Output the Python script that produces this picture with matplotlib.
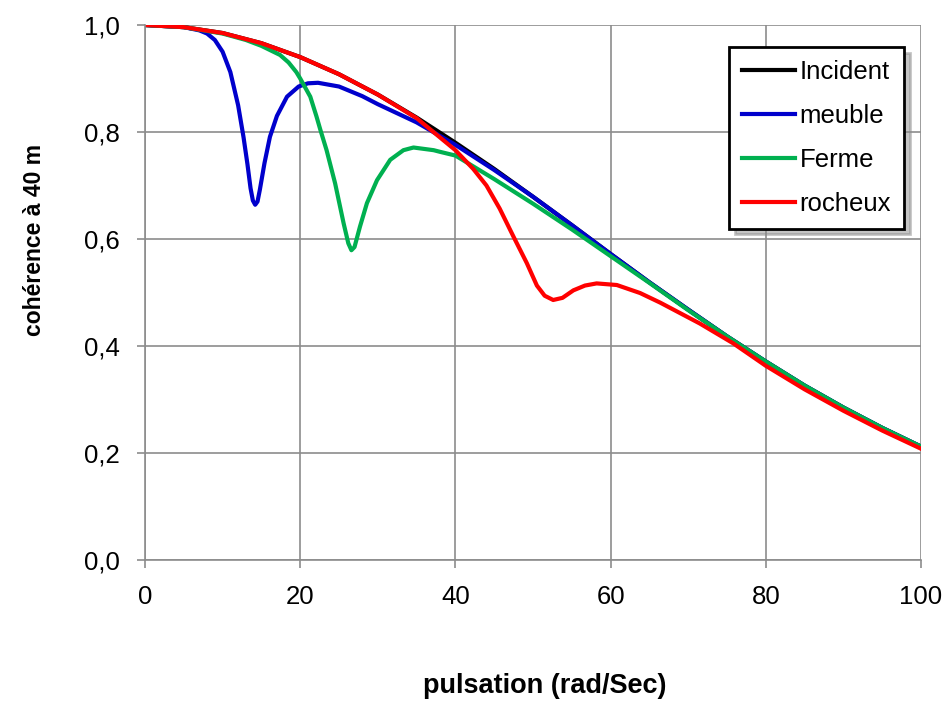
import matplotlib
matplotlib.use('Agg')
import matplotlib.pyplot as plt

plt.rcParams['font.family'] = ['Liberation Sans', 'DejaVu Sans']

# pulsation (rad/Sec) vs cohérence à 40 m
x_incident = [0, 5, 10, 15, 20, 25, 30, 35, 40, 45, 50, 55, 60, 65, 70, 75, 80, 85, 90, 95, 100]
y_incident = [1.000, 0.996, 0.985, 0.966, 0.940, 0.908, 0.870, 0.827, 0.780, 0.731, 0.679,
              0.626, 0.572, 0.519, 0.468, 0.418, 0.371, 0.326, 0.285, 0.247, 0.212]

x_meuble = [0, 5, 7, 8, 9, 10, 11, 12, 12.7, 13.2, 13.6, 13.9, 14.2, 14.5, 14.8, 15.4, 16.1,
            17.0, 18.3, 19.8, 21.0, 22.3, 25, 28, 30, 35, 40, 45, 50, 55, 60, 65, 70, 75, 80,
            85, 90, 95, 100]
y_meuble = [1.000, 0.996, 0.990, 0.984, 0.972, 0.950, 0.912, 0.850, 0.790, 0.740, 0.695, 0.672,
            0.664, 0.670, 0.692, 0.742, 0.791, 0.830, 0.866, 0.885, 0.891, 0.892, 0.885, 0.867,
            0.852, 0.818, 0.776, 0.729, 0.679, 0.626, 0.572, 0.519, 0.468, 0.418, 0.371, 0.326,
            0.285, 0.247, 0.212]

x_ferme = [0, 5, 10, 13, 15, 17.4, 18.5, 19.5, 20.0, 21.3, 22.1, 22.6, 23.4, 24.5, 25.6, 26.2,
           26.6, 27.0, 27.7, 28.6, 29.9, 31.6, 33.3, 34.6, 37.2, 38, 40, 45, 50, 55, 60, 65, 70,
           75, 80, 85, 90, 95, 100]
y_ferme = [1.000, 0.996, 0.984, 0.972, 0.961, 0.944, 0.930, 0.912, 0.900, 0.866, 0.829, 0.804,
           0.766, 0.704, 0.629, 0.592, 0.579, 0.585, 0.623, 0.667, 0.710, 0.748, 0.766, 0.771,
           0.766, 0.763, 0.756, 0.712, 0.666, 0.618, 0.568, 0.518, 0.467, 0.418, 0.371, 0.326,
           0.285, 0.247, 0.212]

x_rocheux = [0, 5, 10, 15, 20, 25, 30, 35, 38, 40, 42.3, 44, 45.7, 47.5, 49.2, 50.5, 51.5, 52.6,
             53.8, 55.2, 56.7, 58.2, 60.8, 63.8, 66.4, 71.5, 75.8, 80, 85, 90, 95, 100]
y_rocheux = [1.000, 0.996, 0.985, 0.966, 0.940, 0.908, 0.870, 0.826, 0.790, 0.766, 0.731, 0.700,
             0.657, 0.604, 0.555, 0.513, 0.494, 0.486, 0.490, 0.504, 0.513, 0.517, 0.514, 0.499,
             0.481, 0.442, 0.405, 0.363, 0.319, 0.279, 0.242, 0.208]

fig = plt.figure(figsize=(9.47, 7.02), dpi=100)
ax = fig.add_axes([145/947, 1-560/702, 776/947, 535/702])

ax.plot(x_incident, y_incident, color='black', lw=3, label='Incident')
ax.plot(x_meuble, y_meuble, color='#0000CC', lw=3, label='meuble')
ax.plot(x_ferme, y_ferme, color='#00B050', lw=3, label='Ferme')
ax.plot(x_rocheux, y_rocheux, color='#FF0000', lw=3, label='rocheux')

ax.set_xlim(0, 100)
ax.set_ylim(0, 1)
ax.set_xticks(range(0, 101, 20))
ax.set_yticks([0, 0.2, 0.4, 0.6, 0.8, 1.0])
ax.set_yticklabels(['0,0', '0,2', '0,4', '0,6', '0,8', '1,0'])
ax.grid(True, color='#8c8c8c', lw=1.2)
ax.set_axisbelow(True)
for s in ['top', 'right']:
    ax.spines[s].set_visible(False)
for s in ['left', 'bottom']:
    ax.spines[s].set_color('#8c8c8c')
    ax.spines[s].set_linewidth(1.2)
ax.tick_params(axis='both', colors='#8c8c8c', labelcolor='black', labelsize=18.5,
               length=6, width=1.2, pad=12)

ax.set_xlabel('pulsation (rad/Sec)', fontsize=19.5, fontweight='bold')
ax.xaxis.set_label_coords(0.515, -0.2355)
ax.xaxis.label.set_va('center')
ax.set_ylabel('cohérence à 40 m', fontsize=16.5, fontweight='bold')
ax.yaxis.set_label_coords(-0.1418, 0.598)
ax.yaxis.label.set_va('center')

leg = ax.legend(loc='upper left', bbox_to_anchor=(729/947, 1-47/702),
                bbox_transform=fig.transFigure, fontsize=18.5, frameon=True, fancybox=False,
                edgecolor='black', handlelength=2.05, handletextpad=0.2, borderpad=0.5,
                labelspacing=0.78, borderaxespad=0,
                shadow={'ox': 4, 'oy': -4, 'color': '0.55', 'alpha': 0.5})
leg.get_frame().set_linewidth(2)
leg.get_frame().set_alpha(1)

fig.savefig('out.png', dpi=100)
